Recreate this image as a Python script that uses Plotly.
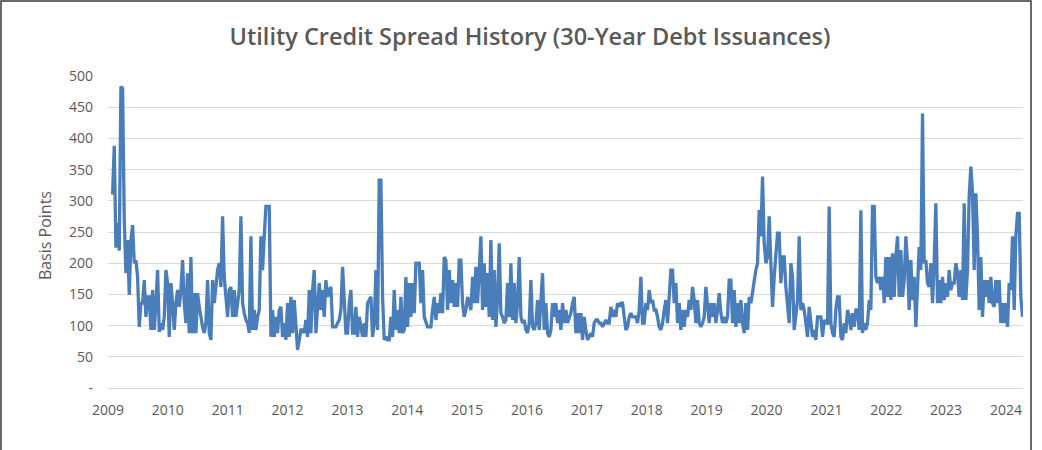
import pandas as pd
import plotly.graph_objects as go

# Spread values (basis points), roughly every ~10 days
spread_2009_10 = [310, 388, 225, 265, 220, 483, 480, 270, 184, 237, 149, 237, 261, 200, 205, 178, 98, 136, 136, 173,
                  114, 146, 146, 93, 157, 93, 136, 189, 90, 104, 93, 114, 189, 168, 82, 168, 136, 93, 136, 157,
                  130, 157, 205, 136, 104, 184, 88]
spread_2010_11 = [210, 88, 152, 88, 152, 130, 109, 98, 88, 104, 173, 88, 77, 173, 136, 162, 189, 200, 162, 275,
                  178, 146, 114, 157, 162, 114, 157, 114, 136, 157, 275, 136, 120, 109, 104, 88, 243, 93, 125, 93,
                  114, 125, 243, 189, 243, 291, 291, 291, 82, 125, 82, 114, 88, 125]
spread_2012_13 = [130, 82, 104, 77, 136, 82, 146, 88, 141, 93, 61, 77, 93, 93, 88, 109, 82, 157, 88, 157,
                  189, 88, 136, 168, 125, 157, 114, 173, 146, 157, 162, 98, 98, 98, 104, 109, 125, 194, 141, 88,
                  88, 136, 157, 88, 88, 130, 82, 114, 98, 82, 104, 82, 136, 141]
spread_2013_14 = [146, 82, 104, 189, 93, 333, 333, 146, 77, 82, 77, 77, 114, 82, 157, 93, 125, 88, 146, 88,
                  93, 178, 98, 168, 114, 168, 120, 200, 200, 200, 136, 189, 114, 104, 98, 98, 98, 125, 146, 109,
                  136, 120, 152, 120, 210, 205, 125, 189, 136, 173, 130, 168, 130, 205]
spread_2015_16 = [205, 136, 114, 125, 146, 136, 125, 178, 136, 194, 136, 189, 243, 125, 200, 130, 184, 114, 237, 109,
                  189, 98, 141, 232, 120, 114, 104, 109, 168, 114, 200, 109, 168, 104, 136, 210, 114, 104, 109, 93,
                  88, 104, 173, 98, 93, 104, 141, 93, 141, 184, 93, 136, 88, 82]
spread_2016_17 = [93, 136, 114, 136, 104, 125, 93, 136, 104, 125, 104, 114, 120, 136, 146, 88, 120, 88, 120, 77,
                  114, 93, 77, 82, 88, 82, 104, 109, 109, 104, 104, 98, 104, 109, 104, 104, 130, 114, 125, 114,
                  136, 130, 136, 136, 114, 93, 98, 114, 120, 114, 114, 114, 104, 125]
spread_2018_19 = [178, 104, 104, 136, 125, 157, 136, 141, 125, 125, 114, 98, 93, 104, 125, 141, 104, 146, 189, 189,
                  136, 168, 104, 136, 93, 125, 98, 125, 114, 141, 125, 162, 141, 104, 141, 104, 98, 104, 114, 162,
                  136, 104, 136, 114, 136, 104, 125, 152, 120, 104, 114, 104, 114, 173]
spread_2019_20 = [173, 104, 157, 98, 136, 104, 141, 104, 88, 136, 93, 146, 136, 157, 168, 189, 200, 285, 243, 339,
                  232, 200, 210, 275, 200, 130, 178, 210, 248, 248, 168, 210, 210, 162, 136, 104, 200, 178, 93, 120,
                  141, 243, 125, 136, 125, 104, 82, 130, 104, 82, 93, 77, 114, 114]
spread_2021_22 = [114, 82, 109, 104, 104, 291, 104, 88, 82, 125, 146, 146, 82, 77, 104, 88, 125, 114, 93, 120,
                  98, 125, 125, 93, 285, 88, 104, 93, 104, 141, 125, 291, 291, 178, 168, 178, 157, 178, 136, 210,
                  146, 210, 141, 216, 146, 210, 243, 146, 221, 146, 173, 243, 200, 125]
spread_2022_23 = [205, 141, 178, 98, 178, 226, 189, 440, 200, 205, 168, 162, 200, 136, 200, 296, 136, 173, 136, 178,
                  141, 168, 146, 189, 157, 168, 168, 200, 184, 146, 189, 141, 296, 141, 189, 307, 355, 312, 189, 312,
                  243, 125, 210, 114, 173, 146, 173, 136, 178, 136, 130, 173, 136, 173]
spread_2024 = [104, 136, 104, 136, 98, 168, 157, 243, 125, 243, 280, 280, 146, 114]

values = (spread_2009_10 + spread_2010_11 + spread_2012_13 + spread_2013_14 + spread_2015_16 +
          spread_2016_17 + spread_2018_19 + spread_2019_20 + spread_2021_22 + spread_2022_23 + spread_2024)
dates = pd.date_range("2009-01-29", periods=len(values), freq="244h")

y_tick_vals = [0, 50, 100, 150, 200, 250, 300, 350, 400, 450, 500]
y_tick_text = ["-", "50", "100", "150", "200", "250", "300", "350", "400", "450", "500"]

TEXT = "#595959"
FONT = "Open Sans"

fig = go.Figure()
fig.add_trace(go.Scatter(x=dates, y=values, mode="lines",
                         line=dict(color="#4a7ebb", width=3.3), hoverinfo="x+y"))

fig.update_layout(
    width=1042, height=450,
    margin=dict(l=108, r=19, t=76, b=62),
    paper_bgcolor="white", plot_bgcolor="white",
    showlegend=False,
    font=dict(family=FONT, color=TEXT, size=14),
    title=dict(text="Utility Credit Spread History (30-Year Debt Issuances)",
               x=530 / 1042, xref="container", xanchor="center",
               y=1 - 37 / 450, yref="container", yanchor="middle",
               font=dict(family=FONT, size=23.5, color=TEXT, weight=600)),
    xaxis=dict(range=["2009-01-01", "2024-04-14"], type="date",
               tickformat="%Y", dtick="M12", tick0="2009-01-01",
               showgrid=False, showline=True, linecolor="#d9d9d9", linewidth=1,
               ticks="", ticklabelstandoff=9, zeroline=False),
    yaxis=dict(range=[0, 500], tickvals=y_tick_vals, ticktext=y_tick_text,
               showgrid=True, gridcolor="#d9d9d9", gridwidth=1,
               zeroline=False, ticks="", ticklabelstandoff=14, showline=False),
    annotations=[dict(text="Basis Points", xref="paper", yref="paper",
                      x=(45 - 108) / 915, y=0.49, textangle=-90, showarrow=False,
                      xanchor="center", yanchor="middle",
                      font=dict(family=FONT, size=16, color=TEXT))],
    shapes=[dict(type="rect", xref="paper", yref="paper",
                 x0=(1 - 108) / 915, x1=(1031 - 108) / 915,
                 y0=(388 - 460) / 312, y1=(388 - 1) / 312,
                 line=dict(color="#3a3a3a", width=1.5), layer="below")],
)

fig.write_html("out.html")
